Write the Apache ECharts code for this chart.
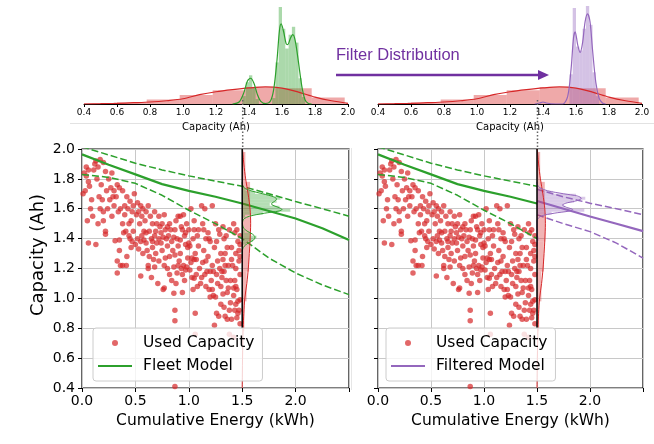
<!DOCTYPE html>
<html>
<head>
<meta charset="utf-8">
<script src="https://cdn.jsdelivr.net/npm/echarts@6/dist/echarts.min.js"></script>
<style>
  html, body { margin: 0; padding: 0; background: #fff; }
  #chart { width: 654px; height: 444px; }
</style>
</head>
<body>
<div id="chart"></div>
<script>
// ---- data ----
// top panels: capacity distributions (density, arbitrary units)
const redHistLo = [0.38, 0.58, 0.78, 0.98, 1.18, 1.38, 1.58, 1.78];
const redHistH  = [0.05, 0.15, 0.45, 0.9, 1.4, 1.7, 1.6, 0.65];
const redKdeX = [0.4, 0.5, 0.6, 0.7, 0.8, 0.9, 1.0, 1.1, 1.2, 1.3, 1.4, 1.5, 1.6, 1.7, 1.8, 1.9, 2.0];
const redKdeY = [0.0, 0.03, 0.07, 0.13, 0.2, 0.33, 0.53, 0.94, 1.24, 1.45, 1.62, 1.72, 1.6, 1.2, 0.7, 0.33, 0.07];

const greenHistLo = [1.36, 1.38, 1.40, 1.42, 1.44, 1.54, 1.56, 1.58, 1.60, 1.62, 1.64, 1.66, 1.68, 1.70, 1.72];
const greenHistH  = [0.8, 2.2, 2.9, 1.7, 0.5, 0.6, 4.2, 9.8, 7.6, 5.6, 7.0, 7.8, 6.2, 2.6, 0.7];
const greenKdeX = [1.30, 1.34, 1.37, 1.39, 1.41, 1.43, 1.45, 1.47, 1.50, 1.53, 1.55, 1.57, 1.585, 1.595, 1.61, 1.625, 1.635, 1.65, 1.665, 1.68, 1.70, 1.72, 1.74, 1.76, 1.78];
const greenKdeY = [0, 0.2, 1.2, 2.3, 2.6, 2.1, 1.0, 0.3, 0.05, 0.3, 1.5, 4.5, 7.5, 8.1, 7.3, 6.1, 6.0, 6.6, 7.0, 6.4, 4.2, 1.8, 0.4, 0.05, 0];

const purpleHistLo = [1.56, 1.58, 1.60, 1.62, 1.64, 1.66, 1.68, 1.70, 1.72];
const purpleHistH  = [3.0, 9.7, 5.8, 5.4, 7.6, 9.9, 8.0, 3.2, 0.8];
const purpleKdeX = [1.35, 1.38, 1.40, 1.42, 1.45, 1.52, 1.55, 1.57, 1.585, 1.595, 1.61, 1.625, 1.64, 1.655, 1.67, 1.685, 1.70, 1.72, 1.74, 1.76, 1.78];
const purpleKdeY = [0, 0.1, 0.2, 0.1, 0.02, 0, 0.8, 3.5, 6.7, 7.3, 6.0, 5.2, 6.2, 8.3, 9.1, 8.3, 5.5, 2.2, 0.6, 0.1, 0];

const binWidth = 0.02;
const redBinWidth = 0.2;

// bottom panels
const capTicks = ['0.4', '0.6', '0.8', '1.0', '1.2', '1.4', '1.6', '1.8', '2.0'];
const energyTicks = ['0.0', '0.5', '1.0', '1.5', '2.0'];

const usedCapacity = [
  [0.06,1.37],[0.13,1.36],[0.03,1.72],[0.02,1.84],[0.04,1.82],[0.06,1.78],[0.07,1.75],[0.01,1.70],[0.09,1.66],[0.08,1.60],[0.05,1.52],[0.10,1.55],[0.12,1.90],[0.13,1.92],[0.11,1.86],[0.15,1.88],[0.06,1.86],[0.04,1.88],
  [0.14,1.80],[0.18,1.76],[0.16,1.68],[0.19,1.66],[0.17,1.60],[0.20,1.58],[0.15,1.50],[0.22,1.45],[0.22,1.43],[0.22,1.85],[0.25,1.80],[0.23,1.72],[0.24,1.60],[0.20,1.52],[0.17,1.93],[0.20,1.91],
  [0.28,1.84],[0.27,1.74],[0.30,1.72],[0.26,1.66],[0.29,1.68],[0.30,1.62],[0.28,1.55],[0.31,1.385],[0.35,1.39],[0.39,1.44],[0.33,1.25],[0.36,1.22],[0.38,1.22],[0.33,1.17],[0.35,1.32],
  [0.33,1.76],[0.35,1.74],[0.32,1.68],[0.38,1.72],[0.36,1.60],[0.34,1.58],[0.40,1.56],[0.38,1.50],[0.41,1.45],[0.415,1.22],[0.42,1.28],[0.40,1.62],
  [0.42,1.68],[0.45,1.65],[0.43,1.60],[0.47,1.58],[0.46,1.52],[0.44,1.50],[0.48,1.45],[0.46,1.34],[0.45,1.40],[0.50,1.36],[0.48,1.62],[0.49,1.70],[0.51,1.56],
  [0.52,1.64],[0.55,1.62],[0.53,1.58],[0.57,1.60],[0.56,1.55],[0.54,1.50],[0.58,1.45],[0.60,1.44],[0.55,1.38],[0.58,1.39],[0.60,1.37],[0.55,1.15],[0.62,1.22],[0.62,1.20],[0.56,1.42],[0.60,1.58],[0.59,1.52],
  [0.62,1.62],[0.64,1.55],[0.66,1.50],[0.63,1.45],[0.68,1.42],[0.65,1.40],[0.66,1.38],[0.70,1.37],[0.67,1.26],[0.65,1.14],[0.70,1.50],[0.68,1.58],[0.68,1.21],[0.69,1.45],[0.72,1.40],
  [0.72,1.55],[0.75,1.50],[0.73,1.48],[0.78,1.46],[0.76,1.41],[0.74,1.37],[0.80,1.35],[0.75,1.32],[0.78,1.27],[0.77,1.22],[0.80,1.48],[0.77,1.56],[0.71,1.10],[0.76,1.06],[0.77,1.07],[0.83,1.46],
  [0.82,1.50],[0.87,1.46],[0.86,1.41],[0.88,1.52],[0.84,1.38],[0.90,1.35],[0.82,1.28],[0.87,1.29],[0.86,1.21],[0.90,1.22],[0.86,1.035],[0.88,1.10],[0.87,0.92],[0.87,0.85],[0.87,0.41],[0.90,1.55],[0.92,1.39],
  [0.92,1.55],[0.95,1.56],[0.93,1.48],[0.98,1.50],[0.96,1.42],[0.95,1.22],[1.00,1.37],[0.92,1.30],[0.98,1.21],[0.97,1.19],[0.94,1.16],[0.94,1.04],[0.99,1.34],[1.01,1.35],[0.97,1.44],
  [1.02,1.60],[1.05,1.52],[1.03,1.27],[1.05,1.26],[1.07,1.26],[1.06,1.30],[1.08,1.42],[1.05,1.135],[1.02,1.24],[1.08,1.08],[1.06,0.90],[1.09,1.35],[1.09,1.46],[1.05,1.46],[1.04,1.40],
  [1.12,1.62],[1.15,1.60],[1.14,1.46],[1.13,1.50],[1.18,1.44],[1.16,1.40],[1.14,1.32],[1.19,1.40],[1.12,1.14],[1.17,1.18],[1.20,1.18],[1.19,1.06],[1.20,1.01],[1.16,1.25],[1.20,1.38],
  [1.22,1.62],[1.25,1.50],[1.23,1.18],[1.28,1.46],[1.26,1.38],[1.24,1.34],[1.30,1.30],[1.22,1.22],[1.27,1.25],[1.23,1.02],[1.25,1.01],[1.30,1.08],[1.31,1.18],[1.26,0.90],[1.24,0.82],[1.29,1.43],
  [1.32,1.48],[1.35,1.42],[1.33,1.18],[1.38,1.46],[1.36,1.34],[1.34,1.30],[1.40,1.34],[1.32,1.26],[1.37,1.22],[1.37,1.07],[1.39,0.97],[1.36,1.04],[1.34,0.88],[1.38,0.92],[1.36,0.86],[1.33,1.40],
  [1.42,1.50],[1.45,1.46],[1.43,1.44],[1.48,1.42],[1.46,1.38],[1.44,1.30],[1.48,1.36],[1.42,1.07],[1.47,1.25],[1.45,1.06],[1.48,1.16],[1.43,1.12],[1.46,0.98],[1.48,0.99],[1.44,0.96],[1.47,0.92],
  [1.45,0.87],[1.48,0.83],[1.46,0.90],[1.41,1.22],[1.47,1.32],[1.48,1.28],[1.44,1.20],[1.06,0.76],[1.38,0.76],[1.42,0.74],
  [0.80,1.20],[0.82,1.16],[0.84,1.12],[0.89,1.17],[0.91,1.25],[0.93,1.20],[0.96,1.12],[0.99,1.27],[1.01,1.19],[1.03,1.14],[1.04,1.06],[1.07,1.16],[1.10,1.20],[1.11,1.10],[1.13,1.24],
  [1.15,1.16],[1.16,1.08],[1.18,1.28],[1.21,1.12],[1.22,1.06],[1.26,1.16],[1.27,1.10],[1.29,1.20],[1.31,1.14],[1.32,1.03],[1.34,1.22],[1.35,1.12],[1.39,1.12],[1.40,1.26],[1.42,1.02],
  [1.44,1.08],[1.30,0.96],[1.28,0.88],[1.33,0.94],[1.40,0.86],[1.43,0.92],
  [0.44,1.42],[0.47,1.38],[0.52,1.40],[0.53,1.33],[0.57,1.30],[0.61,1.32],[0.63,1.28],[0.66,1.34],[0.69,1.30],[0.72,1.25],[0.74,1.44],[0.79,1.40],[0.81,1.42],[0.85,1.32],[0.89,1.40],
  [0.94,1.46],[0.97,1.36],[1.00,1.46]
];

const modelX    = [0, 0.25, 0.5, 0.75, 1.0, 1.25, 1.5, 1.75, 2.0, 2.25, 2.5];
const fleetMid  = [1.964, 1.895, 1.83, 1.765, 1.72, 1.68, 1.635, 1.585, 1.535, 1.47, 1.39];
const fleetUp   = [2.015, 1.96, 1.905, 1.86, 1.82, 1.785, 1.75, 1.70, 1.648, 1.60, 1.55];
const fleetLow  = [1.83, 1.81, 1.77, 1.69, 1.59, 1.50, 1.40, 1.27, 1.17, 1.09, 1.025];

const filteredX   = [1.5, 1.75, 2.0, 2.25, 2.5];
const filteredMid = [1.652, 1.60, 1.548, 1.50, 1.45];
const filteredUp  = [1.73, 1.68, 1.637, 1.60, 1.56];
const filteredLow = [1.56, 1.50, 1.447, 1.37, 1.27];

const cutEnergy = 1.5;   // energy at which the capacity distribution is taken
const densScale = 0.046; // density units -> kWh for the sideways distributions

// ---- helpers ----
const RED = '#d62728', GREEN = '#2ca02c', PURPLE = '#9467bd';
const FONT = 'DejaVu Sans';

function pairs(xs, ys) { return xs.map((x, i) => [x, ys[i]]); }
function histData(lo, h, w) { return lo.map((x, i) => [x, x + w, h[i]]); }

function histUp(fill) {
  return function (params, api) {
    const a = api.coord([api.value(0), api.value(2)]);
    const b = api.coord([api.value(1), 0]);
    return { type: 'rect', shape: { x: a[0], y: a[1], width: b[0] - a[0], height: b[1] - a[1] }, style: { fill: fill } };
  };
}
function histSide(fill) {
  return function (params, api) {
    const a = api.coord([cutEnergy, api.value(1)]);
    const b = api.coord([cutEnergy + api.value(2) * densScale, api.value(0)]);
    return { type: 'rect', shape: { x: a[0], y: a[1], width: b[0] - a[0], height: b[1] - a[1] }, style: { fill: fill } };
  };
}
function sideKde(xs, ys) { return xs.map((c, i) => [cutEnergy + ys[i] * densScale, c]); }

const chart = echarts.init(document.getElementById('chart'), null, { renderer: 'canvas' });

function topX(i) {
  return {
    gridIndex: i, type: 'value', min: 0.4, max: 2.0, interval: 0.2,
    name: 'Capacity (Ah)', nameLocation: 'middle', nameGap: 18,
    nameTextStyle: { fontFamily: FONT, fontSize: 10, color: '#000' },
    axisLine: { lineStyle: { color: '#000', width: 1 } },
    axisTick: { length: 3, lineStyle: { color: '#000' } },
    axisLabel: { fontFamily: FONT, fontSize: 9, color: '#000', margin: 4, formatter: v => v.toFixed(1) },
    splitLine: { show: false }
  };
}
function bottomX(i) {
  return {
    gridIndex: i, type: 'value', min: 0, max: 2.5, interval: 0.5,
    name: 'Cumulative Energy (kWh)', nameLocation: 'middle', nameGap: 22,
    nameTextStyle: { fontFamily: FONT, fontSize: 15.5, color: '#000' },
    axisLine: { show: false },
    axisTick: { length: 4, lineStyle: { color: '#000' } },
    axisLabel: { fontFamily: FONT, fontSize: 14, color: '#000', margin: 6,
      formatter: v => energyTicks.indexOf(v.toFixed(1)) >= 0 ? v.toFixed(1) : '' },
    splitLine: { lineStyle: { color: '#c8c8c8', width: 1 } }
  };
}
function bottomY(i, labels) {
  return {
    gridIndex: i, type: 'value', min: 0.4, max: 2.0, interval: 0.2,
    axisLine: { show: false },
    axisTick: { length: 4, lineStyle: { color: '#000' } },
    axisLabel: { show: labels, fontFamily: FONT, fontSize: 14, color: '#000', margin: 7,
      formatter: v => capTicks.indexOf(v.toFixed(1)) >= 0 ? v.toFixed(1) : '' },
    splitLine: { lineStyle: { color: '#c8c8c8', width: 1 } }
  };
}

function line(name, xi, data, color, width, dashed) {
  return {
    name: name, type: 'line', xAxisIndex: xi, yAxisIndex: xi, data: data,
    symbol: 'none', smooth: false, silent: true, z: 4,
    lineStyle: { color: color, width: width, type: dashed ? [7, 3] : 'solid' },
    itemStyle: { color: color }
  };
}
function kde(xi, data, color, width) {
  return {
    type: 'line', xAxisIndex: xi, yAxisIndex: xi, data: data, symbol: 'none',
    smooth: 0.3, silent: true, z: 5, lineStyle: { color: color, width: width }
  };
}
function scatter(xi) {
  return {
    name: 'Used Capacity', type: 'scatter', xAxisIndex: xi, yAxisIndex: xi,
    data: usedCapacity, symbolSize: 5.5, silent: true, z: 3,
    itemStyle: { color: RED, opacity: 0.7 }
  };
}
function cutLine(xi) {
  return {
    type: 'line', xAxisIndex: xi, yAxisIndex: xi, data: [[cutEnergy, 0.8], [cutEnergy, 2.0]],
    symbol: 'none', silent: true, z: 6, lineStyle: { color: '#000', width: 1.5 }
  };
}
function custom(xi, data, fn) {
  return { type: 'custom', xAxisIndex: xi, yAxisIndex: xi, data: data, renderItem: fn, silent: true, z: 5, clip: true };
}

const redHist = histData(redHistLo, redHistH, redBinWidth);
const greenHist = histData(greenHistLo, greenHistH, binWidth);
const purpleHist = histData(purpleHistLo, purpleHistH, binWidth);

const legendBase = {
  orient: 'vertical', itemWidth: 34, itemHeight: 6, itemGap: 5,
  backgroundColor: 'rgba(255,255,255,0.8)', borderColor: '#cccccc', borderWidth: 1, borderRadius: 3,
  padding: [6, 8, 6, 5], selectedMode: false, z: 20,
  textStyle: { fontFamily: FONT, fontSize: 15.5, color: '#000', lineHeight: 18, padding: [0, 0, 0, 6] }
};
const lineIcon = 'path://M0,0 L34,0 L34,2.2 L0,2.2 Z';

const option = {
  animation: false,
  backgroundColor: '#fff',
  textStyle: { fontFamily: FONT },
  grid: [
    { left: 84, top: 5, width: 264, height: 99 },
    { left: 378, top: 5, width: 264, height: 99 },
    { left: 82, top: 149, width: 267, height: 239, show: true, borderColor: '#000', borderWidth: 1.2, backgroundColor: 'transparent' },
    { left: 378, top: 149, width: 265, height: 239, show: true, borderColor: '#000', borderWidth: 1.2, backgroundColor: 'transparent' }
  ],
  xAxis: [topX(0), topX(1), bottomX(2), bottomX(3)],
  yAxis: [
    { gridIndex: 0, type: 'value', min: 0, max: 10, show: false },
    { gridIndex: 1, type: 'value', min: 0, max: 10, show: false },
    bottomY(2, true), bottomY(3, false)
  ],
  legend: [
    Object.assign({}, legendBase, { left: 93, top: 328,
      data: [{ name: 'Used Capacity', icon: 'circle' }, { name: 'Fleet Model', icon: lineIcon }] }),
    Object.assign({}, legendBase, { left: 386, top: 328,
      data: [{ name: 'Used Capacity', icon: 'circle' }, { name: 'Filtered Model', icon: lineIcon }] })
  ],
  series: [
    // top left
    custom(0, redHist, histUp('rgba(214,39,40,0.4)')),
    kde(0, pairs(redKdeX, redKdeY), RED, 1.2),
    custom(0, greenHist, histUp('rgba(44,160,44,0.4)')),
    kde(0, pairs(greenKdeX, greenKdeY), GREEN, 1.2),
    // top right
    custom(1, redHist, histUp('rgba(214,39,40,0.4)')),
    kde(1, pairs(redKdeX, redKdeY), RED, 1.2),
    custom(1, purpleHist, histUp('rgba(148,103,189,0.4)')),
    kde(1, pairs(purpleKdeX, purpleKdeY), PURPLE, 1.2),
    // bottom left
    scatter(2),
    line('Fleet Model', 2, pairs(modelX, fleetMid), GREEN, 2.2, false),
    line('Fleet upper', 2, pairs(modelX, fleetUp), GREEN, 1.5, true),
    line('Fleet lower', 2, pairs(modelX, fleetLow), GREEN, 1.5, true),
    cutLine(2),
    custom(2, redHist, histSide('rgba(214,39,40,0.35)')),
    kde(2, sideKde(redKdeX, redKdeY), RED, 1),
    custom(2, greenHist, histSide('rgba(44,160,44,0.35)')),
    kde(2, sideKde(greenKdeX, greenKdeY), GREEN, 1),
    // bottom right
    scatter(3),
    line('Fleet Model', 3, pairs(modelX.slice(0, 7), fleetMid.slice(0, 7)), GREEN, 2.2, false),
    line('Fleet upper', 3, pairs(modelX.slice(0, 7), fleetUp.slice(0, 7)), GREEN, 1.5, true),
    line('Fleet lower', 3, pairs(modelX.slice(0, 7), fleetLow.slice(0, 7)), GREEN, 1.5, true),
    line('Filtered Model', 3, pairs(filteredX, filteredMid), PURPLE, 2.2, false),
    line('Filtered upper', 3, pairs(filteredX, filteredUp), PURPLE, 1.5, true),
    line('Filtered lower', 3, pairs(filteredX, filteredLow), PURPLE, 1.5, true),
    cutLine(3),
    custom(3, redHist, histSide('rgba(214,39,40,0.35)')),
    kde(3, sideKde(redKdeX, redKdeY), RED, 1),
    custom(3, purpleHist, histSide('rgba(148,103,189,0.35)')),
    kde(3, sideKde(purpleKdeX, purpleKdeY), PURPLE, 1)
  ],
  graphic: [
    // y-axis title of the left panel
    { type: 'text', silent: true, x: 38, y: 255, rotation: Math.PI / 2,
      style: { text: 'Capacity (Ah)', font: '18px "DejaVu Sans"', fill: '#000', align: 'center', verticalAlign: 'middle' } },
    // faint frame edges of the pasted panels
    { type: 'line', silent: true, z: 0, shape: { x1: 70, y1: 123.5, x2: 654, y2: 123.5 }, style: { stroke: '#e2e2e2', lineWidth: 1 } },
    { type: 'line', silent: true, z: 0, shape: { x1: 351.5, y1: 148, x2: 351.5, y2: 390 }, style: { stroke: '#e6e6e6', lineWidth: 1 } },
    // dotted connectors between the distribution and the cut line
    { type: 'line', silent: true, z: 10, shape: { x1: 242.7, y1: 100, x2: 242.7, y2: 149 }, style: { stroke: '#666', lineWidth: 1.5, lineDash: [1.5, 2] } },
    { type: 'line', silent: true, z: 10, shape: { x1: 537.5, y1: 100, x2: 537.5, y2: 149 }, style: { stroke: '#666', lineWidth: 1.5, lineDash: [1.5, 2] } },
    // annotation
    { type: 'text', silent: true, z: 10, left: 336, top: 47,
      style: { text: 'Filter Distribution', fill: '#7030a0', font: '16.5px "Liberation Sans", Arial, sans-serif' } },
    { type: 'line', silent: true, z: 10, shape: { x1: 336, y1: 75, x2: 540, y2: 75 }, style: { stroke: '#7030a0', lineWidth: 2.5 } },
    { type: 'polygon', silent: true, z: 10, shape: { points: [[538, 70], [549, 75], [538, 80]] }, style: { fill: '#7030a0' } }
  ]
};

chart.setOption(option);
</script>
</body>
</html>
